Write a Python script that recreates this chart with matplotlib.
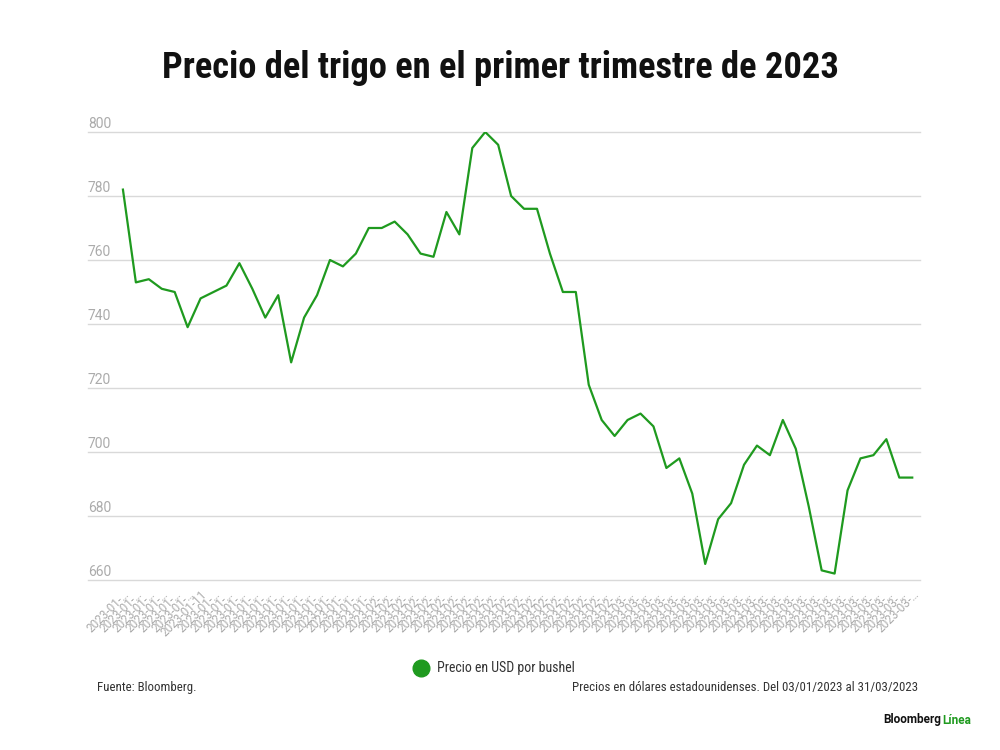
import matplotlib
matplotlib.use('Agg')
import matplotlib.pyplot as plt
import pandas as pd
from matplotlib import font_manager
from matplotlib.lines import Line2D

# trading days, 03/01/2023 - 31/03/2023 (NYSE holidays removed)
HOLIDAYS = ['2023-01-16', '2023-02-20']
dates = [d for d in pd.bdate_range('2023-01-03', '2023-03-31') if d.strftime('%Y-%m-%d') not in HOLIDAYS]

prices = [782, 753, 754, 751, 750, 739, 748, 750, 752, 759,
          751, 742, 749, 728, 742, 749, 760, 758, 762, 770,
          770, 772, 768, 762, 761, 775, 768, 795, 800, 796,
          780, 776, 776, 762, 750, 750, 721, 710, 705, 710,
          712, 708, 695, 698, 687, 665, 679, 684, 696, 702,
          699, 710, 701, 683, 663, 662, 688, 698, 699, 704,
          692, 692]
yticks = [660, 680, 700, 720, 740, 760, 780, 800]

TITLE = 'Precio del trigo en el primer trimestre de 2023'
LEGEND = 'Precio en USD por bushel'
SOURCE = 'Fuente: Bloomberg.'
NOTE = 'Precios en dólares estadounidenses. Del 03/01/2023 al 31/03/2023'

names = {f.name for f in font_manager.fontManager.ttflist}
narrow = 'Roboto Condensed' if 'Roboto Condensed' in names else 'DejaVu Sans'
plain = 'Roboto' if 'Roboto' in names else 'DejaVu Sans'
plt.rcParams['font.family'] = [narrow, 'DejaVu Sans']

GREEN = '#1f9a1f'
GRAY = '#ababab'
INK = '#333333'


def short(d):
    s = d.strftime('%Y-%m-%d')
    # long labels get cut by the renderer, narrow ones fit
    return s if s.endswith('11') else s[:8] + '…'


fig = plt.figure(figsize=(10, 7.5), dpi=100)
ax = fig.add_axes([0.088, 0.2267, 0.832, 0.5973])

x = list(range(len(prices)))
ax.plot(x, prices, color=GREEN, lw=1.6, zorder=3)

ax.set_ylim(660, 800)
ax.set_xlim(-2.7, 61.6)
ax.set_yticks(yticks)
ax.set_yticklabels([])
ax.tick_params(axis='y', length=0)
ax.grid(axis='y', color='#d9d9d9', lw=1)
for gl in ax.get_ygridlines():
    gl.set_clip_on(False)
ax.set_axisbelow(True)
for v in yticks:
    ax.text(0.0, v + 1.1, str(v), transform=ax.get_yaxis_transform(),
            ha='left', va='baseline', fontsize=10, color=GRAY, family=[plain, 'DejaVu Sans'])

ax.set_xticks(x)
ax.set_xticklabels([short(d) for d in dates], rotation=45, ha='right',
                   rotation_mode='anchor', fontsize=8.5, color=GRAY,
                   family=[plain, 'DejaVu Sans'])
ax.tick_params(axis='x', length=0, pad=6)
for s in ax.spines.values():
    s.set_visible(False)

fig.text(0.5, 0.91, TITLE, ha='center', va='center', fontsize=26.3,
         fontweight='bold', color='#111111')

fig.add_artist(Line2D([0.421], [1 - 668 / 750], marker='o', markersize=12, color=GREEN,
                      linestyle='none', transform=fig.transFigure))
fig.text(0.437, 1 - 668 / 750, LEGEND, ha='left', va='center', fontsize=10, color=INK)
fig.text(0.097, 1 - 688 / 750, SOURCE, ha='left', va='center', fontsize=9.3, color=INK)
fig.text(0.918, 1 - 688 / 750, NOTE, ha='right', va='center', fontsize=9.3, color=INK)

fig.text(0.883, 1 - 720 / 750, 'Bloomberg', ha='left', va='center', fontsize=8.5,
         fontweight='bold', color='#111111', family=[plain, 'DejaVu Sans'])
fig.text(0.942, 1 - 720 / 750, 'Línea', ha='left', va='center', fontsize=8.5,
         fontweight='bold', color=GREEN, family=[plain, 'DejaVu Sans'])

fig.savefig('out.png', dpi=100, facecolor='white')
